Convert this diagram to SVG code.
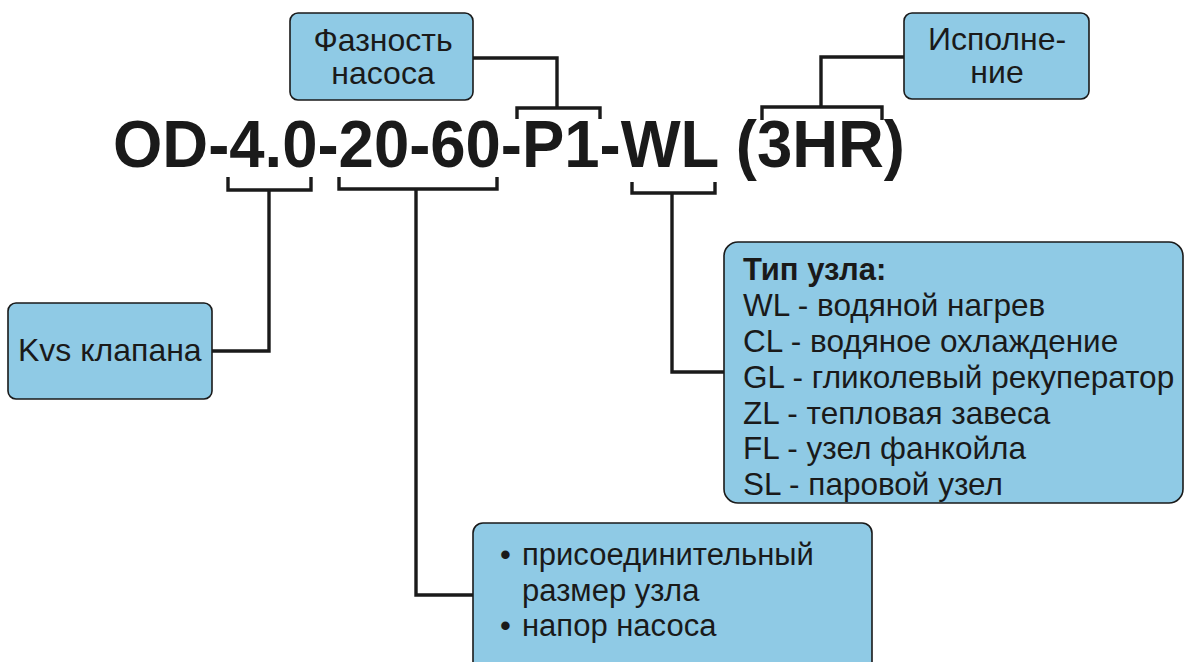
<svg xmlns="http://www.w3.org/2000/svg" width="1184" height="662" viewBox="0 0 1184 662">
<style>
.box{fill:#8fcae5;stroke:#1a1a1a;stroke-width:1.6}
.t{font-family:"Liberation Sans",Arial,sans-serif;fill:#1a1a1a}
.c{fill:none;stroke:#1a1a1a;stroke-width:3.4;stroke-linejoin:miter;stroke-linecap:butt}
.tip{font-size:31.5px}
</style>
<rect width="1184" height="662" fill="#ffffff"/>
<text class="t" x="113" y="167" font-size="67" font-weight="bold" textLength="792" lengthAdjust="spacingAndGlyphs">OD-4.0-20-60-P1-WL (3HR)</text>
<g id="connectors">
<path class="c" d="M473,58 H557 V108"/>
<path class="c" d="M517,119 V108 H600 V119"/>
<path class="c" d="M904,57 H821 V107"/>
<path class="c" d="M762,120 V107 H882 V120"/>
<path class="c" d="M228,177 V190 H311 V177"/>
<path class="c" d="M269,190 V351 H212"/>
<path class="c" d="M339,177 V189 H497 V177"/>
<path class="c" d="M416,189 V595 H473"/>
<path class="c" d="M632,182 V193 H715 V182"/>
<path class="c" d="M672,193 V372 H725"/>
</g>
<g id="node-faznost">
<rect class="box" x="290" y="13" width="183" height="87" rx="8"/>
<text class="t" x="383" y="51" font-size="32" text-anchor="middle">Фазность</text>
<text class="t" x="383" y="84" font-size="32" text-anchor="middle">насоса</text>
</g>
<g id="node-ispolnenie">
<rect class="box" x="904" y="13" width="185" height="86" rx="8"/>
<text class="t" x="997" y="50" font-size="32" text-anchor="middle">Исполне-</text>
<text class="t" x="997" y="83" font-size="32" text-anchor="middle">ние</text>
</g>
<g id="node-kvs">
<rect class="box" x="8" y="303" width="204" height="96" rx="8"/>
<text class="t" x="18" y="361" font-size="32">Kvs клапана</text>
</g>
<g id="node-tip">
<rect class="box" x="724" y="242" width="459" height="261" rx="14"/>
<text class="t" x="743" y="280" font-size="31" font-weight="bold">Тип узла:</text>
<text class="t tip" x="743" y="316">WL - водяной нагрев</text>
<text class="t tip" x="743" y="352">CL - водяное охлаждение</text>
<text class="t tip" x="743" y="388">GL - гликолевый рекуператор</text>
<text class="t tip" x="743" y="424">ZL - тепловая завеса</text>
<text class="t tip" x="743" y="459">FL - узел фанкойла</text>
<text class="t tip" x="743" y="495">SL - паровой узел</text>
</g>
<g id="node-razmer">
<rect class="box" x="473" y="523" width="399" height="150" rx="10"/>
<text class="t" x="500" y="565" font-size="31">•</text>
<text class="t" x="522" y="565" font-size="31">присоединительный</text>
<text class="t" x="522" y="601" font-size="31">размер узла</text>
<text class="t" x="500" y="636" font-size="31">•</text>
<text class="t" x="522" y="636" font-size="31">напор насоса</text>
</g>
</svg>
